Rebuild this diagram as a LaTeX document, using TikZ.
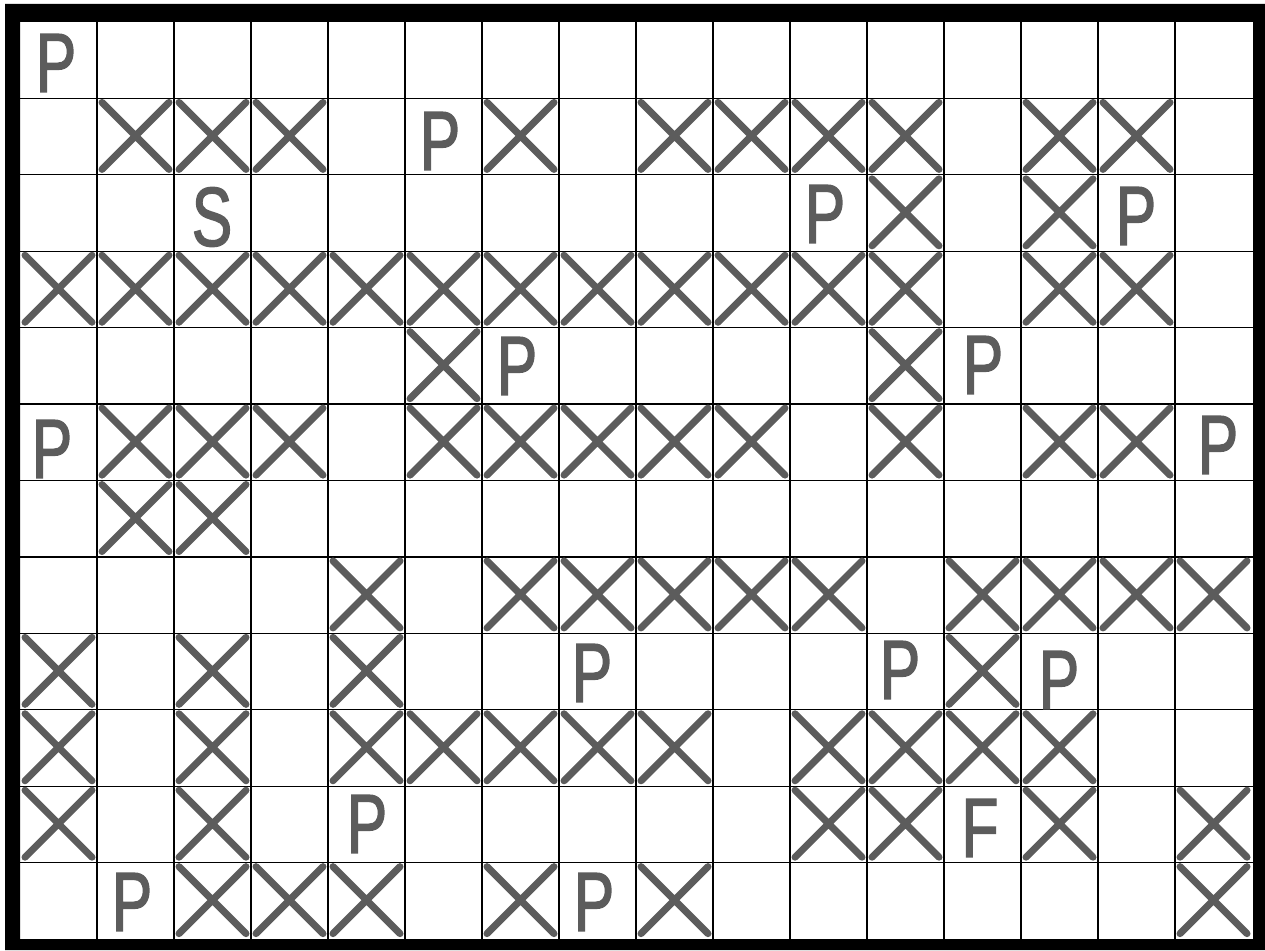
\documentclass[tikz,border=0pt]{standalone}
\usepackage{fontspec}
\newfontfamily\recznie[FakeStretch=0.72,FakeBold=1.6]{Liberation Sans}
\usepackage{xcolor}
\usepackage{tikz}
\definecolor{olowek}{RGB}{92,92,92}
\tikzset{
  siatka/.style  = {draw=black, line width=1.3pt},
  ramka/.style   = {fill=black, even odd rule},
  krzyzyk/.style = {draw=olowek, line width=7pt, line cap=round},
  litera/.style  = {text=olowek, inner sep=0pt,
                    font=\recznie\fontsize{84}{84}\selectfont},
}

\begin{document}
\begin{tikzpicture}[x=1pt, y=-1pt]
  \useasboundingbox (0,0) rectangle (1265,950);
  \fill[white] (0,0) rectangle (1265,950);

  % ramka i siatka 16 x 12
  \path[ramka] (5,4) rectangle (1265,950) (20,22) rectangle (1253,939);
  \foreach \i in {1,...,15}
    \draw[siatka] ({20+77*\i},22) -- ({20+77*\i},939);
  \foreach \j in {1,...,11}
    \draw[siatka] (20,{22+76.42*\j}) -- (1253,{22+76.42*\j});

  % sciany (wiersz / kolumny)
  \foreach \r/\cs in {1/{1,2,3,6,8,9,10,11,13,14}, 2/{11,13},
                      3/{0,1,...,11,13,14}, 4/{5,11},
                      5/{1,2,3,5,6,7,8,9,11,13,14}, 6/{1,2},
                      7/{4,6,7,8,9,10,12,13,14,15}, 8/{0,2,4,12},
                      9/{0,2,4,5,6,7,8,10,11,12,13},
                      10/{0,2,10,11,13,15}, 11/{2,3,4,6,8,15}}
    \foreach \c in \cs {
      \draw[krzyzyk] ({25+77*\c},{26+76.42*\r}) -- ++(67,67)
                     ({92+77*\c},{26+76.42*\r}) -- ++(-67,67);
    }

  % litery
  \node[litera] (p1)    at (56,63)    {P};
  \node[litera] (p2)    at (440,141)  {P};
  \node[litera] (start) at (212,217)  {S};
  \node[litera] (p3)    at (825,214)  {P};
  \node[litera] (p4)    at (1136,216) {P};
  \node[litera] (p5)    at (517,366)  {P};
  \node[litera] (p6)    at (983,365)  {P};
  \node[litera] (p7)    at (52,449)   {P};
  \node[litera] (p8)    at (1218,445) {P};
  \node[litera] (p9)    at (592,673)  {P};
  \node[litera] (p10)   at (900,670)  {P};
  \node[litera] (p11)   at (1059,680) {P};
  \node[litera] (p12)   at (367,824)  {P};
  \node[litera] (meta)  at (980,828)  {F};
  \node[litera] (p13)   at (132,902)  {P};
  \node[litera] (p14)   at (594,902)  {P};
\end{tikzpicture}
\end{document}
